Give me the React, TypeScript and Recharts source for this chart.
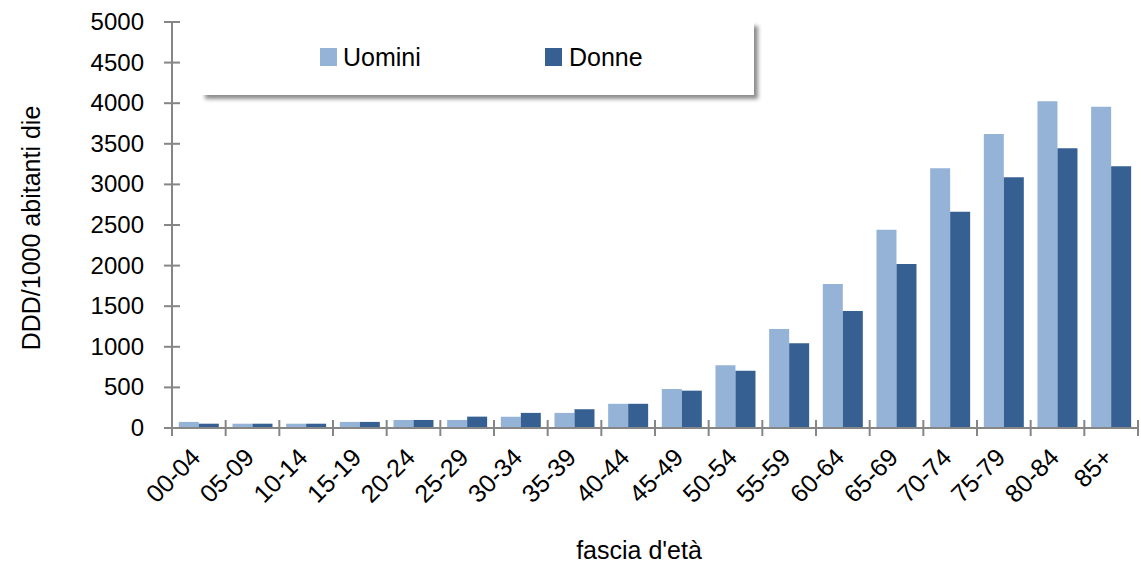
import React from 'react';
import { BarChart, Bar, XAxis, YAxis } from 'recharts';

const ageGroups = ['00-04', '05-09', '10-14', '15-19', '20-24', '25-29', '30-34', '35-39', '40-44', '45-49', '50-54', '55-59', '60-64', '65-69', '70-74', '75-79', '80-84', '85+'];
const uomini = [75, 53, 53, 75, 99, 99, 140, 186, 298, 480, 772, 1219, 1773, 2443, 3198, 3621, 4023, 3957];
const donne = [53, 53, 53, 75, 99, 140, 186, 231, 298, 460, 706, 1043, 1441, 2020, 2664, 3087, 3444, 3222];
const yTicks = [0, 500, 1000, 1500, 2000, 2500, 3000, 3500, 4000, 4500, 5000];

const LIGHT = '#95b3d7';
const DARK = '#366092';
const AXIS = '#868686';
const FONT = "'Liberation Sans', Arial, sans-serif";

const data = ageGroups.map((g, i) => ({ g, uomini: uomini[i], donne: donne[i] }));

// tick sull'asse x: linee ai bordi delle categorie (stile Excel) + etichetta ruotata
const XTick = (props: any) => {
  const { x, y, payload, index, visibleTicksCount } = props;
  const half = payload.offset ?? 26.8;
  const tx = x + 3;
  const ty = y + 31;
  return (
    <g>
      <line x1={x - half} x2={x - half} y1={y - 8} y2={y + 8} stroke={AXIS} strokeWidth={2} />
      {index === visibleTicksCount - 1 && (
        <line x1={x + half} x2={x + half} y1={y - 8} y2={y + 8} stroke={AXIS} strokeWidth={2} />
      )}
      <text
        x={tx}
        y={ty}
        transform={`rotate(-45, ${tx}, ${ty})`}
        textAnchor="end"
        fontSize={25}
        fontFamily={FONT}
        fill="#000"
      >
        {payload.value}
      </text>
    </g>
  );
};

const YTick = (props: any) => {
  const { x, y, payload } = props;
  return (
    <g>
      <line x1={x - 8} x2={x + 8} y1={y} y2={y} stroke={AXIS} strokeWidth={2} />
      <text x={x - 28} y={y} dy={8} textAnchor="end" fontSize={24} fontFamily={FONT} fill="#000">
        {payload.value}
      </text>
    </g>
  );
};

export default function App() {
  return (
    <div style={{ position: 'absolute', left: 0, top: 0, width: 1141, height: 567, background: '#fff' }}>
      <BarChart
        width={1141}
        height={567}
        data={data}
        margin={{ top: 22, right: 3, left: 0, bottom: 0 }}
        barCategoryGap="12.7%"
        barGap={0}
      >
        <XAxis
          dataKey="g"
          height={139}
          tickLine={false}
          tickSize={0}
          tickMargin={0}
          interval={0}
          axisLine={{ stroke: AXIS, strokeWidth: 2 }}
          tick={<XTick />}
          label={{
            content: (p: any) => {
              const vb = p.viewBox;
              return (
                <text x={vb.x + vb.width / 2 - 16} y={vb.y + 131} textAnchor="middle" fontSize={25} fontFamily={FONT} fill="#000">
                  fascia d'età
                </text>
              );
            },
          }}
        />
        <YAxis
          width={172}
          domain={[0, 5000]}
          ticks={yTicks}
          interval={0}
          tickLine={false}
          tickSize={0}
          tickMargin={0}
          axisLine={{ stroke: AXIS, strokeWidth: 2 }}
          tick={<YTick />}
          label={{
            content: (p: any) => {
              const vb = p.viewBox;
              const cx = vb.x + 32;
              const cy = vb.y + vb.height / 2 + 3;
              return (
                <text x={cx} y={cy} transform={`rotate(-90, ${cx}, ${cy})`} dy={8} textAnchor="middle" fontSize={25} fontFamily={FONT} fill="#000">
                  DDD/1000 abitanti die
                </text>
              );
            },
          }}
        />
        <Bar dataKey="uomini" name="Uomini" fill={LIGHT} isAnimationActive={false} />
        <Bar dataKey="donne" name="Donne" fill={DARK} isAnimationActive={false} />
      </BarChart>
      <div
        style={{
          position: 'absolute',
          left: 201,
          top: 22,
          width: 553,
          height: 73,
          background: '#fff',
          boxShadow: '4px 4px 4px rgba(0,0,0,0.45)',
          fontFamily: FONT,
          fontSize: 25,
          color: '#000',
        }}
      >
        <div style={{ position: 'absolute', left: 119, top: 26, width: 17, height: 18, background: LIGHT }} />
        <div style={{ position: 'absolute', left: 142, top: 21, lineHeight: '28px' }}>Uomini</div>
        <div style={{ position: 'absolute', left: 344, top: 26, width: 17, height: 18, background: DARK }} />
        <div style={{ position: 'absolute', left: 368, top: 21, lineHeight: '28px' }}>Donne</div>
      </div>
    </div>
  );
}
